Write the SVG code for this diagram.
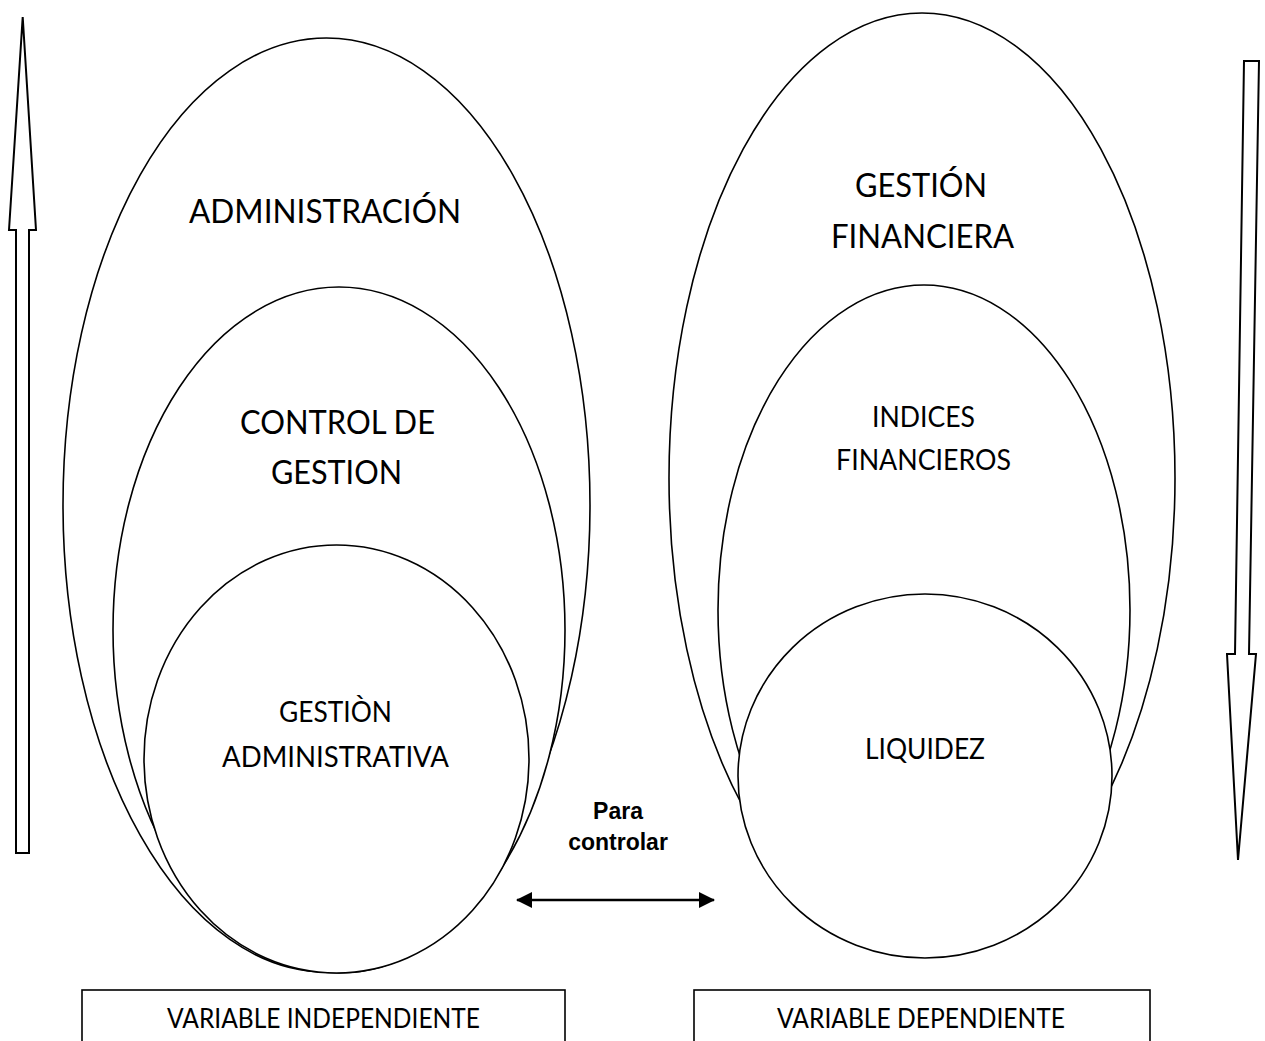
<svg xmlns="http://www.w3.org/2000/svg" width="1265" height="1041" viewBox="0 0 1265 1041">
<style>
.sh{fill:#fff;stroke:#000;stroke-width:1.6}
.ar{fill:#fff;stroke:#000;stroke-width:2}
.t{font-family:Lato,"Noto Sans",sans-serif;fill:#000;text-anchor:middle}
.l{font-size:33px}
.m{font-size:28.5px}
.s{font-size:26px}
.b{font-family:"Liberation Sans",Arial,sans-serif;font-weight:bold;font-size:23px;fill:#000;text-anchor:middle}
</style>
<defs>
<marker id="ah" viewBox="0 0 16 16" refX="15" refY="8" markerWidth="16" markerHeight="16" markerUnits="userSpaceOnUse" orient="auto-start-reverse">
<path d="M0,0 L16,8 L0,16 Z" fill="#000"/>
</marker>
</defs>
<rect width="1265" height="1041" fill="#fff"/>

<g id="arrow-up">
<polygon class="ar" points="22.7,17 36,230 29,230 29,853 16,853 16,230 9,230"/>
</g>
<g id="arrow-down">
<polygon class="ar" points="1244,61 1259,61 1249,654 1256,654 1238,860 1227,654 1235,654"/>
</g>

<g id="administracion">
<ellipse class="sh" cx="326.5" cy="505" rx="263.5" ry="467"/>
<text class="t l" x="325" y="223" textLength="272" lengthAdjust="spacingAndGlyphs">ADMINISTRACIÓN</text>
</g>
<g id="control-de-gestion">
<ellipse class="sh" cx="339" cy="630" rx="226" ry="343"/>
<text class="t l" x="337.5" y="434" textLength="195" lengthAdjust="spacingAndGlyphs">CONTROL DE</text>
<text class="t l" x="336.5" y="484" textLength="131" lengthAdjust="spacingAndGlyphs">GESTION</text>
</g>
<g id="gestion-administrativa">
<ellipse class="sh" cx="336.5" cy="759" rx="192.5" ry="214"/>
<text class="t m" x="335.5" y="722" textLength="113" lengthAdjust="spacingAndGlyphs">GESTIÒN</text>
<text class="t m" x="335.5" y="767" textLength="227" lengthAdjust="spacingAndGlyphs">ADMINISTRATIVA</text>
</g>

<g id="gestion-financiera">
<ellipse class="sh" cx="922" cy="478" rx="253" ry="465"/>
<text class="t l" x="921" y="197" textLength="132" lengthAdjust="spacingAndGlyphs">GESTIÓN</text>
<text class="t l" x="922.5" y="248" textLength="183" lengthAdjust="spacingAndGlyphs">FINANCIERA</text>
</g>
<g id="indices-financieros">
<ellipse class="sh" cx="924" cy="610" rx="206" ry="325"/>
<text class="t m" x="923.5" y="427" textLength="103" lengthAdjust="spacingAndGlyphs">INDICES</text>
<text class="t m" x="923.5" y="470" textLength="175" lengthAdjust="spacingAndGlyphs">FINANCIEROS</text>
</g>
<g id="liquidez">
<ellipse class="sh" cx="925" cy="776" rx="187" ry="182"/>
<text class="t m" x="925" y="759" textLength="120" lengthAdjust="spacingAndGlyphs">LIQUIDEZ</text>
</g>

<g id="connectors">
<line x1="517" y1="900" x2="714" y2="900" stroke="#000" stroke-width="2.6" marker-start="url(#ah)" marker-end="url(#ah)"/>
</g>
<g id="label-para-controlar">
<text class="b" x="618" y="819">Para</text>
<text class="b" x="618" y="850">controlar</text>
</g>

<g id="variable-independiente">
<rect x="82" y="990" width="483" height="70" fill="#fff" stroke="#000" stroke-width="1.6"/>
<text class="t s" x="323.5" y="1028" textLength="313" lengthAdjust="spacingAndGlyphs">VARIABLE INDEPENDIENTE</text>
</g>
<g id="variable-dependiente">
<rect x="694" y="990" width="456" height="70" fill="#fff" stroke="#000" stroke-width="1.6"/>
<text class="t s" x="921" y="1028" textLength="288" lengthAdjust="spacingAndGlyphs">VARIABLE DEPENDIENTE</text>
</g>
</svg>
